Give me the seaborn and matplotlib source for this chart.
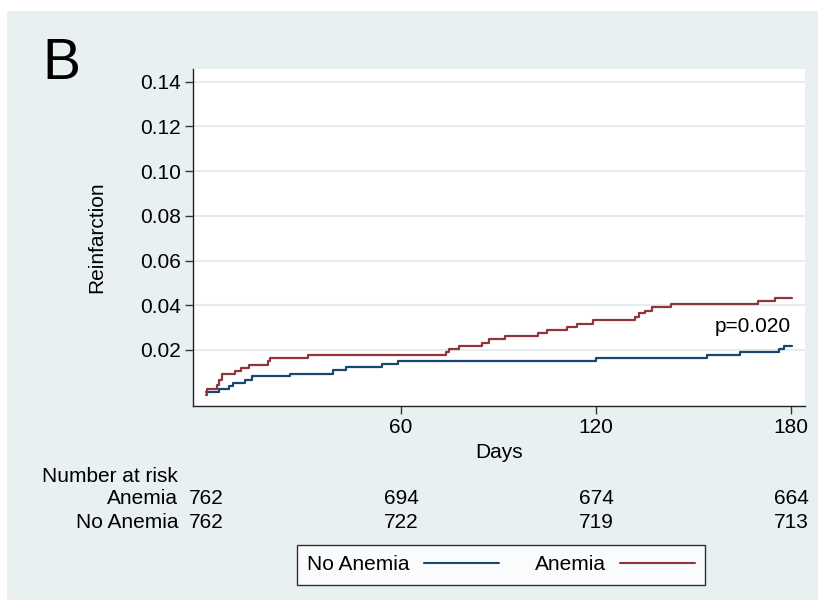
import numpy as np
import pandas as pd
import seaborn as sns
import matplotlib.pyplot as plt
from matplotlib.patches import Rectangle
from matplotlib.transforms import blended_transform_factory

# step points (day, cumulative incidence)
anemia_days = [0, 0.2, 3.3, 4.1, 4.9, 8.9, 10.8, 13.1, 19.0, 19.8, 31.3, 73.8, 74.8, 77.9,
               84.8, 87.1, 92.0, 102.0, 104.9, 111.2, 114.0, 119.1, 131.9, 133.2, 135.0,
               137.3, 143.2, 169.9, 175.2, 180.2]
anemia_vals = [0.0, 0.0027, 0.0042, 0.0067, 0.0094, 0.0107, 0.0121, 0.0134, 0.0149, 0.0164,
               0.0178, 0.0190, 0.0206, 0.0219, 0.0233, 0.0248, 0.0261, 0.0276, 0.0290, 0.0303,
               0.0318, 0.0334, 0.0349, 0.0363, 0.0376, 0.0390, 0.0404, 0.0419, 0.0433, 0.0433]

noanemia_days = [0.1, 3.9, 7.0, 8.3, 12.0, 14.3, 25.9, 39.0, 43.0, 54.1, 59.1, 120.0, 154.1,
                 164.2, 176.2, 177.7, 180.2]
noanemia_vals = [0.0012, 0.0027, 0.0040, 0.0054, 0.0067, 0.0081, 0.0094, 0.0109, 0.0122,
                 0.0136, 0.0151, 0.0164, 0.0178, 0.0190, 0.0206, 0.0218, 0.0218]

yticks = [0.02, 0.04, 0.06, 0.08, 0.10, 0.12, 0.14]
xticks = [60, 120, 180]
risk_times = [0, 60, 120, 180]
risk_anemia = [762, 694, 674, 664]
risk_noanemia = [762, 722, 719, 713]

df = pd.concat([
    pd.DataFrame({"day": noanemia_days, "risk": noanemia_vals, "group": "No Anemia"}),
    pd.DataFrame({"day": anemia_days, "risk": anemia_vals, "group": "Anemia"}),
])

bg = "#E9F0F2"
grid_col = "#E4ECEF"
palette = {"No Anemia": "#1A476F", "Anemia": "#90353B"}
fs = 15

sns.set_style("white")
plt.rcParams["font.family"] = ["Liberation Sans", "DejaVu Sans"]
plt.rcParams["text.color"] = "black"
plt.rcParams["xtick.color"] = "black"
plt.rcParams["ytick.color"] = "black"

fig = plt.figure(figsize=(8.22, 6.03), dpi=100, facecolor="white")
fig.patches.append(Rectangle((7 / 822, 1 - 600 / 603), 811 / 822, 589 / 603,
                             transform=fig.transFigure, facecolor=bg, edgecolor="none",
                             zorder=-10))

ax = fig.add_axes([0.2348, 0.3267, 0.7445, 0.5589])
ax.set_facecolor("white")

sns.lineplot(data=df, x="day", y="risk", hue="group", palette=palette,
             estimator=None, sort=True, drawstyle="steps-post", linewidth=1.6,
             ax=ax, legend=False)

ax.set_xlim(-4, 184.3)
ax.set_ylim(-0.0051, 0.1457)
ax.set_xticks(xticks)
ax.set_xticklabels([str(t) for t in xticks], fontsize=fs)
ax.set_yticks(yticks)
ax.set_yticklabels([f"{t:.2f}" for t in yticks], fontsize=fs)
ax.tick_params(axis="both", direction="out", length=6, width=1, color="#333333",
               bottom=True, left=True, pad=3)
ax.grid(axis="y", color=grid_col, linewidth=1.5)
ax.set_axisbelow(True)
for s in ["top", "right"]:
    ax.spines[s].set_visible(False)
for s in ["left", "bottom"]:
    ax.spines[s].set_color("#222222")
    ax.spines[s].set_linewidth(1)
ax.set_xlabel("")
ax.set_ylabel("")

ax.text(180, 0.0305, "p=0.020", ha="right", va="center", fontsize=fs)

fig.text(97 / 822, 1 - 237 / 603, "Reinfarction", rotation=90, ha="center", va="center",
         fontsize=fs)
fig.text(499 / 822, 1 - 452 / 603, "Days", ha="center", va="center", fontsize=fs)
fig.text(42 / 822, 1 - 64 / 603, "B", ha="left", va="center", fontsize=41)

# number at risk table
trans = blended_transform_factory(ax.transData, fig.transFigure)
fig.text(42 / 822, 1 - 477 / 603, "Number at risk", ha="left", va="center", fontsize=fs)
fig.text(178 / 822, 1 - 499 / 603, "Anemia", ha="right", va="center", fontsize=fs)
fig.text(178 / 822, 1 - 522 / 603, "No Anemia", ha="right", va="center", fontsize=fs)
for t, a, n in zip(risk_times, risk_anemia, risk_noanemia):
    ax.text(t, 1 - 499 / 603, str(a), transform=trans, ha="center", va="center",
            fontsize=fs, clip_on=False)
    ax.text(t, 1 - 522 / 603, str(n), transform=trans, ha="center", va="center",
            fontsize=fs, clip_on=False)

handles = [plt.Line2D([], [], color=palette[g], linewidth=1.5) for g in ["No Anemia", "Anemia"]]
leg = fig.legend(handles, ["No Anemia", "Anemia"], loc="center",
                 bbox_to_anchor=(501 / 822, 1 - 565 / 603), ncol=2, markerfirst=False,
                 fontsize=fs, frameon=True, fancybox=False, handlelength=3.6,
                 columnspacing=1.7, borderpad=0.5, handletextpad=0.7)
leg.get_frame().set_edgecolor("black")
leg.get_frame().set_linewidth(1)
leg.get_frame().set_facecolor("white")

fig.savefig("out.png", dpi=100, facecolor="white")
